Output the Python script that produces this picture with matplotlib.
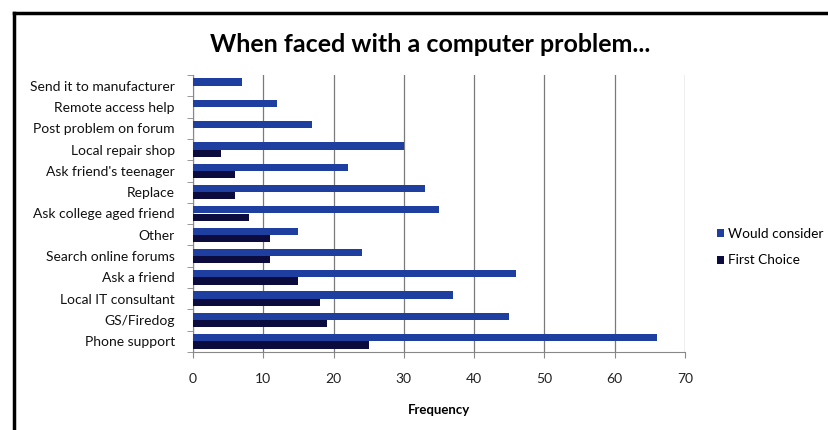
import matplotlib.pyplot as plt
import numpy as np
from matplotlib.lines import Line2D

# Datos: de arriba hacia abajo como en la imagen
categorias = ['Send it to manufacturer', 'Remote access help', 'Post problem on forum',
              'Local repair shop', "Ask friend's teenager", 'Replace',
              'Ask college aged friend', 'Other', 'Search online forums',
              'Ask a friend', 'Local IT consultant', 'GS/Firedog', 'Phone support']
would_consider = [7, 12, 17, 30, 22, 33, 35, 15, 24, 46, 37, 45, 66]
first_choice = [0, 0, 0, 4, 6, 6, 8, 11, 11, 15, 18, 19, 25]
ticks_x = [0, 10, 20, 30, 40, 50, 60, 70]

plt.rcParams['font.family'] = ['Lato', 'DejaVu Sans']

fig = plt.figure(figsize=(8.29, 4.30), dpi=100)
ax = fig.add_axes([193 / 829, 1 - 352 / 430, (685 - 193) / 829, (352 - 75) / 430])

n = len(categorias)
y = np.arange(n)[::-1]
h = 0.34
ax.barh(y + h / 2, would_consider, height=h, color='#1f3fa0', label='Would consider', zorder=3)
ax.barh(y - h / 2, first_choice, height=h, color='#0b0b3d', label='First Choice', zorder=3)

ax.set_xlim(0, 70)
ax.set_ylim(-0.5, n - 0.5)
ax.set_xticks(ticks_x)
ax.set_yticks(y)
ax.set_yticklabels(categorias, fontsize=10, color='#111111')
ax.set_yticks(np.arange(n + 1) - 0.5, minor=True)
ax.tick_params(axis='y', which='major', length=0, pad=13)
ax.tick_params(axis='y', which='minor', length=4, color='#888888', direction='out')
ax.tick_params(axis='x', length=4, color='#888888', labelsize=10, pad=11, labelcolor='#222222')
ax.grid(axis='x', color='#7a7a7a', linewidth=0.9, zorder=0)

for s in ['top', 'right']:
    ax.spines[s].set_visible(False)
for s in ['left', 'bottom']:
    ax.spines[s].set_color('#888888')

ax.set_xlabel('Frequency', fontsize=9.5, fontweight='bold', labelpad=14)
fig.text(430 / 829, 1 - 45 / 430, 'When faced with a computer problem...',
         ha='center', va='center', fontsize=18, fontweight='bold')

fig.legend(loc='center left', bbox_to_anchor=(714 / 829, 1 - 247 / 430), frameon=False,
           fontsize=9.8, handlelength=0.5, handleheight=0.5, handletextpad=0.3,
           labelspacing=1.1, borderaxespad=0, borderpad=0.2)

# Marco exterior (solo arriba e izquierda visibles)
fig.add_artist(Line2D([14 / 829, 1], [1 - 13 / 430, 1 - 13 / 430], color='black', linewidth=2.5,
                      transform=fig.transFigure))
fig.add_artist(Line2D([14 / 829, 14 / 829], [0, 1 - 13 / 430], color='black', linewidth=2.5,
                      transform=fig.transFigure))

fig.savefig('out.png', dpi=100)
plt.close(fig)
